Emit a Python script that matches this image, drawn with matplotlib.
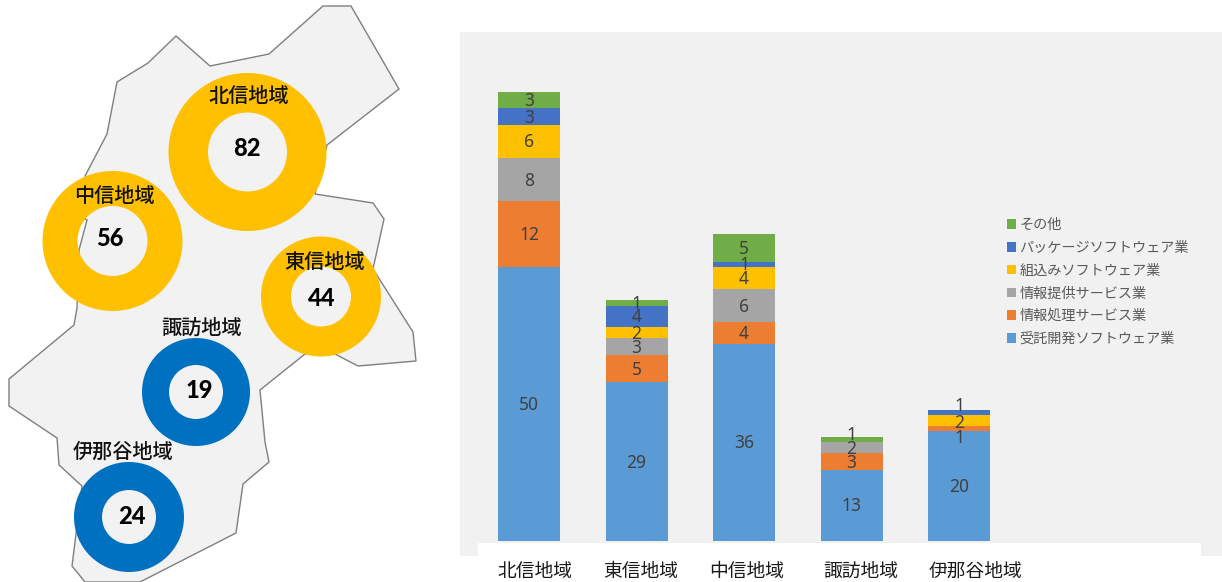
import matplotlib
matplotlib.use("Agg")
import matplotlib.pyplot as plt
from matplotlib.patches import Polygon, Wedge, Rectangle

plt.rcParams['font.family'] = ['Noto Sans CJK JP', 'DejaVu Sans']

# ---- data ----
regions = ['北信地域', '東信地域', '中信地域', '諏訪地域', '伊那谷地域']
series_names = ['受託開発ソフトウェア業', '情報処理サービス業', '情報提供サービス業',
                '組込みソフトウェア業', 'パッケージソフトウェア業', 'その他']
contract_dev = [50, 29, 36, 13, 20]
info_processing = [12, 5, 4, 3, 1]
info_services = [8, 3, 6, 2, 0]
embedded = [6, 2, 4, 0, 2]
package_sw = [3, 4, 1, 0, 1]
others = [3, 1, 5, 1, 0]
series_values = [contract_dev, info_processing, info_services, embedded, package_sw, others]
region_totals = [82, 44, 56, 19, 24]

# ---- styles / layout ----
series_colors = ['#5B9BD5', '#ED7D31', '#A5A5A5', '#FFC000', '#4472C4', '#70AD47']
W, H = 1222, 582
map_outline = [(323, 6), (351, 6), (399, 89), (327, 145), (315, 194), (373, 203), (384, 219),
               (373, 269), (413, 332), (416, 361), (358, 366), (335, 354), (305, 354),
               (260, 390), (265, 442), (269, 462), (243, 484), (236, 533), (140, 582),
               (85, 582), (72, 566), (82, 486), (59, 465), (57, 438), (9, 406), (9, 379),
               (74, 325), (77, 308), (79, 250), (87, 220), (85, 219), (85, 176), (107, 134),
               (117, 82), (148, 63), (176, 36), (210, 66), (269, 54)]
# region: ring centre, outer radius, inner radius, colour, name pos, number pos
ring_layout = {
    '北信地域': ((247.5, 152), 79, 39.5, '#FFC000', (249, 97), (247, 149)),
    '東信地域': ((321, 296.5), 60, 30, '#FFC000', (325, 262), (322, 299)),
    '中信地域': ((112.5, 241), 70, 35, '#FFC000', (114, 196), (110, 239)),
    '諏訪地域': ((196, 392), 54, 27, '#0070C0', (202, 328), (199, 390)),
    '伊那谷地域': ((129, 517), 55, 27, '#0070C0', (123, 452), (132, 516)),
}
bar_px0, bar_step, bar_px_w = 529, 107.5, 62
base_y, px_per_unit = 541, 5.476
panel = (460, 32, 1222, 556)
label_px = [535, 641, 747, 861, 976]
# data-label nudges in pixels (downward positive): (region index, series index)
label_nudge = {(3, 5): -6, (4, 4): -7, (4, 3): 1, (4, 1): 8}

fig = plt.figure(figsize=(W / 100, H / 100), dpi=100, facecolor='white')

# ---- map ----
mp = fig.add_axes([0, 0, 1, 1], facecolor='none')
mp.set_xlim(0, W)
mp.set_ylim(H, 0)
mp.axis('off')
mp.add_patch(Polygon(map_outline, closed=True, facecolor='#F2F2F2', edgecolor='#7F7F7F', linewidth=1))
for name, total in zip(regions, region_totals):
    c, ro, ri, col, np_, vp = ring_layout[name]
    mp.add_patch(Wedge(c, ro, 0, 360, width=ro - ri, facecolor=col, edgecolor='none'))
    mp.text(np_[0], np_[1], name, ha='center', va='center', fontsize=14.5, color='#111111', weight='medium')
    mp.text(vp[0], vp[1], str(total), ha='center', va='center', fontsize=17, color='black',
            family='Lato', weight='black')

# ---- bar chart ----
ax = fig.add_axes([panel[0] / W, 1 - panel[3] / H, (panel[2] - panel[0]) / W, (panel[3] - panel[1]) / H],
                  facecolor='#F1F1F1')
ax.set_xlim((panel[0] - bar_px0) / bar_step, (panel[2] - bar_px0) / bar_step)
ax.set_ylim((base_y - panel[3]) / px_per_unit, (base_y - panel[1]) / px_per_unit)
for s in ax.spines.values():
    s.set_visible(False)
ax.set_yticks([])

xs = list(range(len(regions)))
bottoms = [0] * len(regions)
for si, (name, vals, col) in enumerate(zip(series_names, series_values, series_colors)):
    ax.bar(xs, vals, width=bar_px_w / bar_step, bottom=bottoms, color=col, label=name, zorder=2)
    for x, v, b in zip(xs, vals, bottoms):
        if v > 0:
            dy = -(label_nudge.get((x, si), 0) + 1) * 0.72
            ax.annotate(str(v), (x, b + v / 2), xytext=(0, dy), textcoords='offset points',
                        ha='center', va='center', fontsize=12.5, color='#404040', zorder=4,
                        family='Noto Sans')
    bottoms = [b + v for b, v in zip(bottoms, vals)]

ax.add_patch(Rectangle((478, 543), 723, 13, transform=mp.transData, facecolor='white',
                       edgecolor='none', zorder=3))

ax.set_xticks([(p - bar_px0) / bar_step for p in label_px], regions)
ax.tick_params(axis='x', length=0, pad=3.5, labelsize=13.5, labelcolor='#1a1a1a')

h, l = ax.get_legend_handles_labels()
leg = ax.legend(h[::-1], l[::-1], loc='upper left', bbox_to_anchor=((1007 - panel[0]) / (panel[2] - panel[0]),
                (panel[3] - 218) / (panel[3] - panel[1])), frameon=False, fontsize=10.2, labelcolor='#595959',
                handlelength=0.65, handleheight=0.65, handletextpad=0.22, labelspacing=0.62,
                borderpad=0, borderaxespad=0)

fig.savefig('out.png', dpi=100)
